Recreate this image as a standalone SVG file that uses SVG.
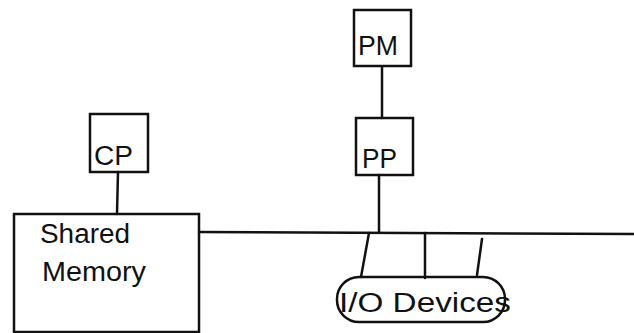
<svg xmlns="http://www.w3.org/2000/svg" width="634" height="333" viewBox="0 0 634 333">
<style>
.box{fill:none;stroke:#111;stroke-width:2.5}
.ln{fill:none;stroke:#111;stroke-width:2.5;stroke-linecap:round}
.t{font-family:"Liberation Sans","DejaVu Sans",sans-serif;font-size:27px;fill:#111}
</style>
<rect width="634" height="333" fill="#fff"/>
<g id="connectors">
<line class="ln" x1="382" y1="67" x2="382" y2="118"/>
<line class="ln" x1="379" y1="175" x2="379" y2="232"/>
<line class="ln" x1="118" y1="172" x2="117" y2="214"/>
<line class="ln" x1="199" y1="232" x2="634" y2="234"/>
<line class="ln" x1="369" y1="233" x2="361" y2="277"/>
<line class="ln" x1="425" y1="233" x2="425" y2="278"/>
<line class="ln" x1="482" y1="239" x2="477" y2="275"/>
</g>
<g id="PM">
<rect class="box" x="354" y="10" width="57" height="56"/>
<text class="t" x="358" y="55" textLength="40" lengthAdjust="spacingAndGlyphs">PM</text>
</g>
<g id="PP">
<rect class="box" x="356" y="118" width="57" height="57"/>
<text class="t" x="362" y="168" textLength="35" lengthAdjust="spacingAndGlyphs">PP</text>
</g>
<g id="CP">
<rect class="box" x="90" y="114" width="58" height="58"/>
<text class="t" x="94" y="165" textLength="39" lengthAdjust="spacingAndGlyphs">CP</text>
</g>
<g id="SharedMemory">
<rect class="box" x="14" y="214" width="185" height="118"/>
<text class="t" x="40" y="243" textLength="90" lengthAdjust="spacingAndGlyphs">Shared</text>
<text class="t" x="42" y="281" textLength="104" lengthAdjust="spacingAndGlyphs">Memory</text>
</g>
<g id="IODevices">
<rect class="box" x="337" y="277" width="168" height="45" rx="22" ry="22"/>
<text class="t" x="339" y="312" textLength="172" lengthAdjust="spacingAndGlyphs">I/O Devices</text>
</g>
</svg>
